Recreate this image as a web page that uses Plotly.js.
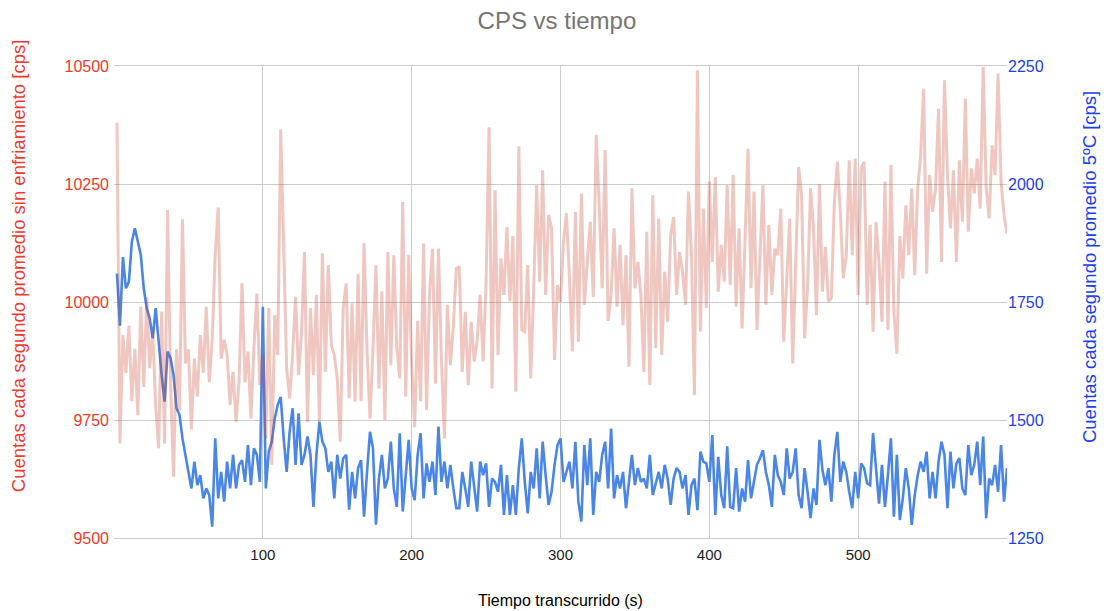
<!DOCTYPE html>
<html>
<head>
<meta charset="utf-8">
<script src="https://cdn.plot.ly/plotly-3.0.1.min.js"></script>
<style>html,body{margin:0;padding:0;background:#fff;}#chart{width:1107px;height:611px;}</style>
</head>
<body>
<div id="chart"></div>
<script>
// Sampling: every 2 s, first sample at t = 2 s
const tiempoInicio = 2;
const tiempoPaso = 2;

// Cuentas cada segundo promedio sin enfriamiento [cps] (left axis)
const cpsSinEnfriamiento = [
  10380, 9700, 9930, 9850, 9950, 9790, 9900, 9760, 9990, 9820, 10010, 9860, 9940, 9780, 9690, 9980, 9700, 10195, 9830, 9630,
  9900, 9770, 10175, 9870, 9900, 9730, 9880, 9800, 9930, 9850, 9990, 9830, 9920, 10100, 10200, 9880, 9920,
  9888, 9782, 9852, 9746, 9831, 10040, 9830, 9895, 9753, 9902, 10018, 9824, 9888, 9711, 9987, 9655, 9972, 9888, 10366, 10121,
  9859, 9796, 9888, 10011, 9845, 9937, 10106, 9746, 9987, 9845, 10015, 9746, 10103, 9852, 10078, 9909, 9888, 9838, 9704, 9987,
  10039, 9796, 9997, 9789, 10060, 9790, 10125, 9898, 9753, 9900, 10078, 9817, 10022, 9750, 10106, 9866, 10099, 9902, 9838, 10212,
  9800, 10100, 9870, 9735, 9960, 9790, 10124, 9771, 10015, 10113, 9827, 10113, 9880, 9711, 9994, 9866, 9948, 10071,
  10075, 9852, 9979, 9824, 9958, 9874, 9916, 10015, 9874, 10043, 10370, 9817, 10237, 9888, 10092, 10015, 10159, 10001, 10140, 9810,
  10330, 9941, 9937, 10078, 9838, 10029, 10248, 10043, 10279, 10015, 10184, 10156, 9877, 10036, 10000, 10128, 10188, 10050, 9895, 10191,
  9916, 10230, 9994, 10085, 10170, 10010, 10354, 10205, 10029, 10322, 9960, 10015, 10156, 9990, 10121, 9951, 10099, 9863, 10241, 10029,
  10085, 10015, 9852, 10149, 9824, 10226, 9902, 10177, 9888, 10064, 9958, 10142, 10180, 10015, 10106, 10064, 9994, 10234,
  10100, 9803, 10491, 9937, 10198, 9987, 10255, 10085, 10265, 10022, 10121, 10043, 10248, 10036, 10269, 9990, 10156, 9944, 10128, 10325,
  10029, 10234, 9941, 10085, 10248, 9994, 10163, 10015, 10113, 10099, 10198, 9916, 10043, 10177, 9870, 10099, 10286, 10226, 9923,
  10030, 10241, 10156, 9972, 10250, 10022, 10117, 10001, 10008, 10212, 10297, 10191, 10050, 10099, 10300, 10099, 10304, 10015, 10283, 10297,
  9994, 10163, 9937, 10170, 10085, 9958, 10255, 9941, 10290, 9979, 9890, 10140, 10050, 10205, 10099, 10241, 10057, 10241, 10311,
  10452, 10060, 10269, 10191, 10241, 10410, 10085, 10470, 10269, 10156, 10279, 10085, 10300, 10170, 10431, 10149, 10283, 10230, 10304, 10198,
  10498, 10241, 10177, 10332, 10269, 10484, 10255, 10184, 10145
];

// Cuentas cada segundo promedio 5ºC [cps] (right axis)
const cps5C = [
  1810, 1700, 1845, 1779, 1793, 1878, 1906, 1878, 1850, 1779, 1737, 1715, 1673, 1737, 1659, 1595, 1539, 1645, 1631, 1595,
  1525, 1511, 1461, 1426, 1398, 1355, 1412, 1362, 1383, 1334, 1355, 1341, 1274, 1461, 1334, 1390, 1327,
  1412, 1355, 1426, 1355, 1405, 1415, 1369, 1447, 1362, 1440, 1426, 1369, 1740, 1355, 1433, 1454, 1503, 1532, 1549, 1461,
  1390, 1475, 1525, 1405, 1514, 1405, 1426, 1465, 1426, 1316, 1426, 1496, 1454, 1440, 1390, 1412, 1334, 1426, 1376, 1419,
  1426, 1310, 1390, 1334, 1398, 1415, 1295, 1390, 1475, 1440, 1278, 1376, 1426, 1355, 1376, 1454, 1355, 1316, 1472, 1306,
  1390, 1458, 1355, 1330, 1426, 1472, 1334, 1408, 1369, 1412, 1341, 1486, 1369, 1412, 1355, 1405, 1355, 1313,
  1313, 1390, 1355, 1316, 1412, 1355, 1306, 1412, 1383, 1408, 1316, 1376, 1369, 1348, 1405, 1299, 1383, 1299, 1362, 1299,
  1398, 1461, 1369, 1302, 1390, 1355, 1440, 1334, 1454, 1383, 1320, 1348, 1405, 1447, 1461, 1369, 1390, 1412, 1355, 1454,
  1327, 1285, 1447, 1362, 1461, 1299, 1390, 1369, 1426, 1454, 1355, 1482, 1334, 1383, 1355, 1390, 1313, 1369, 1426, 1362,
  1398, 1369, 1376, 1355, 1426, 1341, 1369, 1390, 1355, 1405, 1376, 1320, 1376, 1398, 1390, 1355, 1383, 1299,
  1362, 1376, 1309, 1433, 1412, 1408, 1369, 1468, 1299, 1422, 1341, 1313, 1444, 1316, 1313, 1398, 1306, 1355, 1327, 1415,
  1334, 1369, 1405, 1419, 1436, 1390, 1362, 1316, 1426, 1383, 1369, 1341, 1440, 1376, 1390, 1440, 1341, 1313, 1398,
  1348, 1292, 1355, 1320, 1458, 1394, 1362, 1398, 1327, 1426, 1475, 1369, 1412, 1390, 1348, 1313, 1390, 1334, 1408, 1398,
  1366, 1362, 1472, 1398, 1323, 1405, 1316, 1383, 1461, 1295, 1426, 1288, 1334, 1398, 1355, 1278, 1341, 1383, 1412,
  1390, 1433, 1334, 1390, 1334, 1412, 1454, 1426, 1313, 1433, 1355, 1408, 1419, 1355, 1341, 1447, 1383, 1405, 1454, 1362,
  1465, 1292, 1376, 1362, 1405, 1348, 1447, 1327, 1398
];

const xTicks = [100, 200, 300, 400, 500];
const leftTicks = [9500, 9750, 10000, 10250, 10500];
const rightTicks = [1250, 1500, 1750, 2000, 2250];

const FONT = 'Liberation Sans, Arial, Helvetica, sans-serif';
const RED = '#ee3b2b';
const BLUE = '#1b3ff2';

const traces = [
  {
    name: 'Cuentas cada segundo promedio 5ºC [cps]',
    x0: tiempoInicio, dx: tiempoPaso, y: cps5C,
    type: 'scatter', mode: 'lines', yaxis: 'y',
    line: {color: '#4a86e8', width: 2.6}
  },
  {
    name: 'Cuentas cada segundo promedio sin enfriamiento [cps]',
    x0: tiempoInicio, dx: tiempoPaso, y: cpsSinEnfriamiento,
    type: 'scatter', mode: 'lines', yaxis: 'y2',
    line: {color: 'rgb(205,70,45)', width: 3}, opacity: 0.3
  }
];

const layout = {
  width: 1107, height: 611,
  margin: {l: 114, r: 100, t: 66, b: 73},
  paper_bgcolor: '#ffffff', plot_bgcolor: '#ffffff',
  showlegend: false,
  font: {family: FONT, size: 15, color: '#222'},
  title: {text: 'CPS vs tiempo', font: {family: FONT, size: 24, color: '#757575'},
          x: 0.496, xref: 'paper', y: 0.966, yref: 'container', yanchor: 'middle'},
  xaxis: {
    range: [0, 600], tickvals: xTicks, ticktext: xTicks.map(String),
    showgrid: true, gridcolor: '#cccccc', gridwidth: 1, zeroline: false,
    showline: true, linecolor: '#cccccc', linewidth: 1, mirror: true,
    ticks: '', ticklabelstandoff: 3, tickfont: {family: FONT, size: 15, color: '#222'},
    title: {text: 'Tiempo transcurrido (s)', font: {family: FONT, size: 16, color: '#000'}, standoff: 32}
  },
  yaxis: {
    range: [1250, 2250], tickvals: rightTicks, ticktext: rightTicks.map(String),
    side: 'right', showgrid: true, gridcolor: '#cccccc', zeroline: false, ticks: '',
    tickfont: {family: FONT, size: 16, color: BLUE}
  },
  yaxis2: {
    range: [9500, 10500], tickvals: leftTicks, ticktext: leftTicks.map(String),
    side: 'left', overlaying: 'y', showgrid: false, zeroline: false, ticks: '',
    ticklabelstandoff: 4,
    tickfont: {family: FONT, size: 16, color: RED}
  },
  annotations: [
    {text: 'Cuentas cada segundo promedio sin enfriamiento [cps]', textangle: -90,
     xref: 'paper', yref: 'paper', x: -0.1075, y: 0.576, xanchor: 'center', yanchor: 'middle',
     showarrow: false, font: {family: FONT, size: 18.5, color: RED}},
    {text: 'Cuentas cada segundo promedio 5ºC [cps]', textangle: -90,
     xref: 'paper', yref: 'paper', x: 1.0918, y: 0.574, xanchor: 'center', yanchor: 'middle',
     showarrow: false, font: {family: FONT, size: 18.5, color: BLUE}}
  ]
};

Plotly.newPlot('chart', traces, layout, {displayModeBar: false, staticPlot: true});
</script>
</body>
</html>
